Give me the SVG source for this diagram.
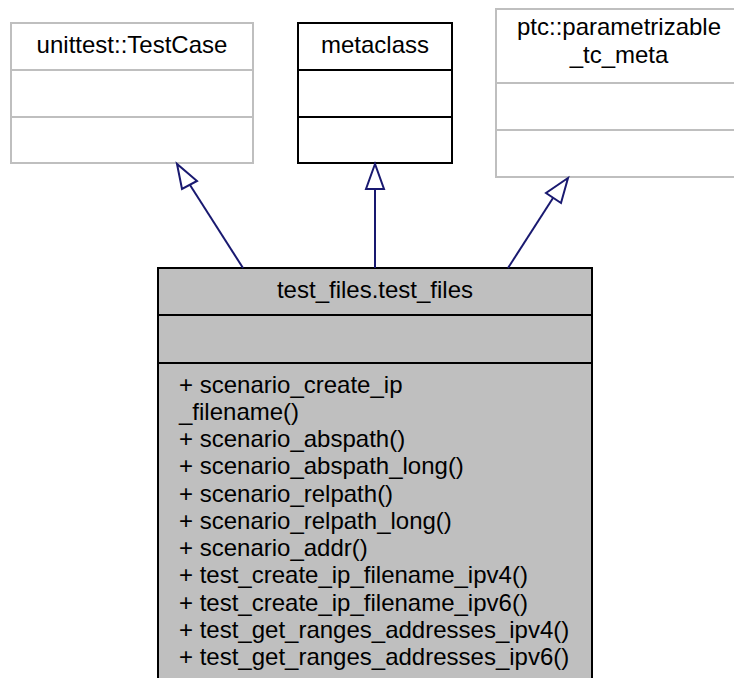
<svg xmlns="http://www.w3.org/2000/svg" width="734" height="678" viewBox="0 0 734 678">
<style>
text{font-family:"Liberation Sans",Arial,Helvetica,sans-serif;font-size:24px;fill:#000}
.c{text-anchor:middle}
.gray{fill:#fff;stroke:#bfbfbf;stroke-width:2}
.blk{fill:#fff;stroke:#000;stroke-width:2}
.main{fill:#bfbfbf;stroke:#000;stroke-width:2}
.gl{stroke:#bfbfbf;stroke-width:2}
.bl{stroke:#000;stroke-width:2}
.edge{stroke:#191970;stroke-width:2;fill:none}
.head{fill:#fff;stroke:#191970;stroke-width:2}
</style>
<rect width="734" height="678" fill="#fff"/>
<g id="node_testcase">
<rect class="gray" x="11" y="23" width="242" height="140"/>
<line class="gl" x1="11" y1="70" x2="253" y2="70"/>
<line class="gl" x1="11" y1="117" x2="253" y2="117"/>
<text class="c" x="132" y="53">unittest::TestCase</text>
</g>
<g id="node_metaclass">
<rect class="blk" x="298" y="23" width="154" height="140"/>
<line class="bl" x1="298" y1="70" x2="452" y2="70"/>
<line class="bl" x1="298" y1="117" x2="452" y2="117"/>
<text class="c" x="375" y="53">metaclass</text>
</g>
<g id="node_ptc">
<rect class="gray" x="496" y="9" width="250" height="168"/>
<line class="gl" x1="496" y1="83" x2="746" y2="83"/>
<line class="gl" x1="496" y1="130" x2="746" y2="130"/>
<text class="c" x="619" y="35">ptc::parametrizable</text>
<text class="c" x="619" y="63">_tc_meta</text>
</g>
<g id="node_test_files">
<rect class="main" x="158" y="268" width="434" height="420"/>
<line class="bl" x1="158" y1="315" x2="592" y2="315"/>
<line class="bl" x1="158" y1="363" x2="592" y2="363"/>
<text class="c" x="375" y="298">test_files.test_files</text>
<text x="179" y="393">+ scenario_create_ip</text>
<text x="179" y="420">_filename()</text>
<text x="179" y="447">+ scenario_abspath()</text>
<text x="179" y="474">+ scenario_abspath_long()</text>
<text x="179" y="502">+ scenario_relpath()</text>
<text x="179" y="529">+ scenario_relpath_long()</text>
<text x="179" y="556">+ scenario_addr()</text>
<text x="179" y="583">+ test_create_ip_filename_ipv4()</text>
<text x="179" y="611">+ test_create_ip_filename_ipv6()</text>
<text x="179" y="638">+ test_get_ranges_addresses_ipv4()</text>
<text x="179" y="665">+ test_get_ranges_addresses_ipv6()</text>
</g>
<g id="connectors">
<line class="edge" x1="243" y1="268" x2="190" y2="185"/>
<polygon class="head" points="177,164 182,189 197,181"/>
<line class="edge" x1="375" y1="268" x2="375" y2="189"/>
<polygon class="head" points="375,164 366,189 384,189"/>
<line class="edge" x1="508" y1="268" x2="553" y2="198"/>
<polygon class="head" points="568,178 546,193 561,203"/>
</g>
</svg>
